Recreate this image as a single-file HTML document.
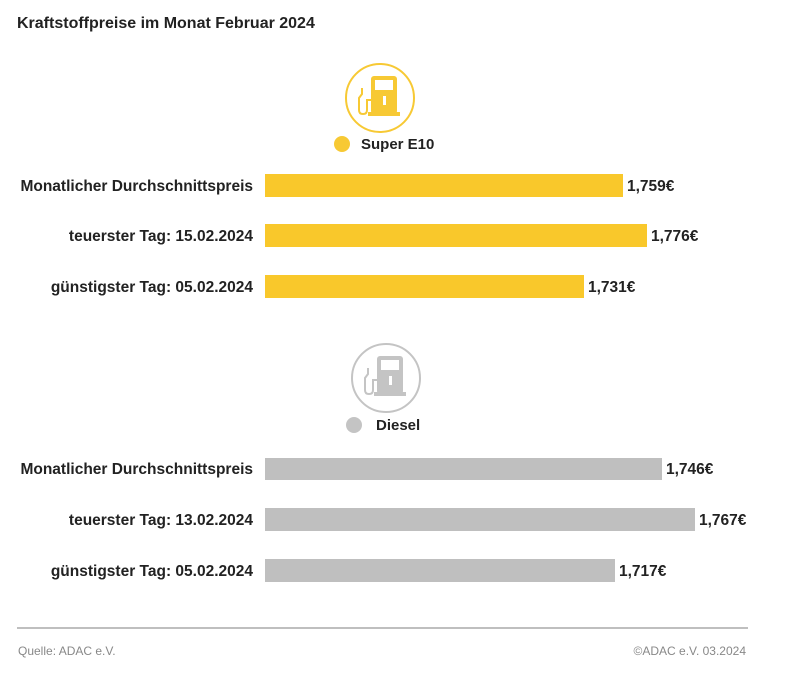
<!DOCTYPE html>
<html><head><meta charset="utf-8"><style>
body{margin:0;background:#fff;}
svg{display:block;font-family:"Liberation Sans",sans-serif;}
.l{font-size:15.5px;font-weight:bold;fill:#222;text-anchor:end;}
.v{font-size:15.5px;font-weight:bold;fill:#222;}
</style></head><body>
<svg width="794" height="676" viewBox="0 0 794 676">
<rect width="794" height="676" fill="#fff"/>
<text x="17" y="28" font-size="16" font-weight="bold" fill="#222">Kraftstoffpreise im Monat Februar 2024</text>
<!-- E10 icon -->
<circle cx="380" cy="98" r="34" fill="none" stroke="#f7c934" stroke-width="2"/>
<g fill="#f7c934">
<rect x="371" y="76" width="26" height="38" rx="3"/>
<rect x="368" y="112" width="32" height="4"/>
</g>
<rect x="375" y="80" width="18" height="10" fill="#fff"/>
<rect x="383" y="96" width="3" height="9" fill="#fff"/>
<path d="M371 100 h-4 v10 q0 4 -4 4 q-4 0 -4 -4 v-12 l3 -4 v-6" fill="none" stroke="#f7c934" stroke-width="2"/>
<circle cx="342" cy="144" r="8" fill="#f7c934"/>
<text x="361" y="149" font-size="15" font-weight="bold" fill="#222">Super E10</text>
<rect x="265" y="174" width="358" height="23" fill="#f9c82b"/>
<rect x="265" y="224" width="382" height="23" fill="#f9c82b"/>
<rect x="265" y="275" width="319" height="23" fill="#f9c82b"/>
<text class="l" x="253" y="191">Monatlicher Durchschnittspreis</text>
<text class="l" x="253" y="241">teuerster Tag: 15.02.2024</text>
<text class="l" x="253" y="292">günstigster Tag: 05.02.2024</text>
<text class="v" x="627" y="191">1,759€</text>
<text class="v" x="651" y="241">1,776€</text>
<text class="v" x="588" y="292">1,731€</text>
<!-- Diesel icon -->
<circle cx="386" cy="378" r="34" fill="none" stroke="#c4c4c4" stroke-width="2"/>
<g fill="#c4c4c4">
<rect x="377" y="356" width="26" height="38" rx="3"/>
<rect x="374" y="392" width="32" height="4"/>
</g>
<rect x="381" y="360" width="18" height="10" fill="#fff"/>
<rect x="389" y="376" width="3" height="9" fill="#fff"/>
<path d="M377 380 h-4 v10 q0 4 -4 4 q-4 0 -4 -4 v-12 l3 -4 v-6" fill="none" stroke="#c4c4c4" stroke-width="2"/>
<circle cx="354" cy="425" r="8" fill="#c4c4c4"/>
<text x="376" y="430" font-size="15" font-weight="bold" fill="#222">Diesel</text>
<rect x="265" y="458" width="397" height="22" fill="#bfbfbf"/>
<rect x="265" y="508" width="430" height="23" fill="#bfbfbf"/>
<rect x="265" y="559" width="350" height="23" fill="#bfbfbf"/>
<text class="l" x="253" y="474">Monatlicher Durchschnittspreis</text>
<text class="l" x="253" y="525">teuerster Tag: 13.02.2024</text>
<text class="l" x="253" y="576">günstigster Tag: 05.02.2024</text>
<text class="v" x="666" y="474">1,746€</text>
<text class="v" x="699" y="525">1,767€</text>
<text class="v" x="619" y="576">1,717€</text>
<line x1="17" y1="628" x2="748" y2="628" stroke="#aaa" stroke-width="1.5"/>
<text x="18" y="655" font-size="12" fill="#888">Quelle: ADAC e.V.</text>
<text x="746" y="655" font-size="12" fill="#888" text-anchor="end">©ADAC e.V. 03.2024</text>
</svg>
</body></html>
